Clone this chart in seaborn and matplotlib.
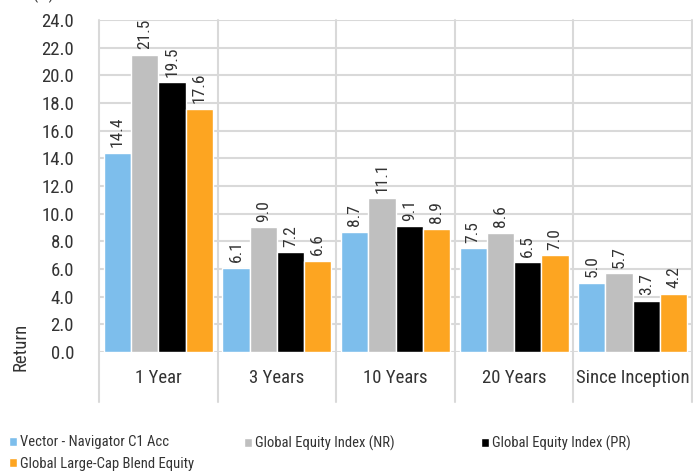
import numpy as np
import pandas as pd
import matplotlib
matplotlib.use('Agg')
import matplotlib.pyplot as plt
from matplotlib import font_manager
import seaborn as sns

# data
periods = ['1 Year', '3 Years', '10 Years', '20 Years', 'Since Inception']
series = ['Vector - Navigator C1 Acc', 'Global Equity Index (NR)',
          'Global Equity Index (PR)', 'Global Large-Cap Blend Equity']
vector = [14.4, 6.1, 8.7, 7.5, 5.0]
index_nr = [21.5, 9.0, 11.1, 8.6, 5.7]
index_pr = [19.5, 7.2, 9.1, 6.5, 3.7]
category = [17.6, 6.6, 8.9, 7.0, 4.2]
colors = ['#7DBEEC', '#BFBFBF', '#000000', '#FDA521']

rows = []
for s, vals in zip(series, [vector, index_nr, index_pr, category]):
    for p, v in zip(periods, vals):
        rows.append({'period': p, 'series': s, 'value': v})
df = pd.DataFrame(rows)

# pick a condensed face if one is around
installed = set(f.name for f in font_manager.fontManager.ttflist)
font = 'DejaVu Sans'
for f in ['Roboto Condensed', 'Liberation Sans Narrow', 'Arial Narrow',
          'Open Sans Condensed', 'PT Sans Narrow', 'Archivo Narrow', 'Roboto']:
    if f in installed:
        font = f
        break

sns.set_theme(style='white')
plt.rcParams['font.family'] = [font, 'DejaVu Sans']
txt = '#333333'
grid = '#D9D9D9'

fig = plt.figure(figsize=(6.93, 4.71), dpi=100)
ax = fig.add_axes([0.1429, 0.2527, 0.8557, 0.7048])

sns.barplot(data=df, x='period', y='value', hue='series', palette=colors,
            saturation=1, width=0.92, edgecolor='white', linewidth=1, ax=ax,
            legend=True)

for c in ax.containers:
    ax.bar_label(c, fmt='%.1f', rotation=90, padding=4, fontsize=12.5, color=txt)

ax.set_ylim(0, 24)
ax.set_yticks(np.arange(0, 24.1, 2))
ax.set_yticklabels(['%.1f' % t for t in np.arange(0, 24.1, 2)])
ax.set_xlim(-0.5, len(periods) - 0.5)
ax.yaxis.grid(True, color=grid, linewidth=1.5)
ax.set_axisbelow(True)
for sp in ax.spines.values():
    sp.set_visible(False)
ax.tick_params(axis='y', length=14, width=1.5, color=grid, labelsize=13.5,
               labelcolor=txt, pad=4)
ax.tick_params(axis='x', length=0, labelsize=13.5, labelcolor=txt, pad=12)

# category separators running down through the label band
for b in np.arange(-0.5, len(periods), 1):
    ax.axvline(b, ymin=-0.151, ymax=1, color=grid, linewidth=1.5, clip_on=False, zorder=0)

ax.set_xlabel('')
ax.set_ylabel('')
fig.text(0.029, 0.263, 'Return', rotation=90, ha='center', va='center',
         fontsize=13.5, color=txt)
fig.text(0.0476, 1.012, '(%)', ha='left', va='center', fontsize=12, color=txt)

handles, labels = ax.get_legend_handles_labels()
ax.get_legend().remove()
# legend laid out in three fixed columns, like the original
cols = [([0, 3], 0.004), ([1], 0.343), ([2], 0.685)]
for idx, x0 in cols:
    fig.legend([handles[i] for i in idx], [labels[i] for i in idx],
               loc='upper left', bbox_to_anchor=(x0, 0.088), frameon=False,
               fontsize=10.5, handlelength=0.6, handleheight=0.6,
               handletextpad=0.2, labelspacing=0.5, labelcolor=txt,
               borderaxespad=0)

fig.savefig('out.png', dpi=100)
